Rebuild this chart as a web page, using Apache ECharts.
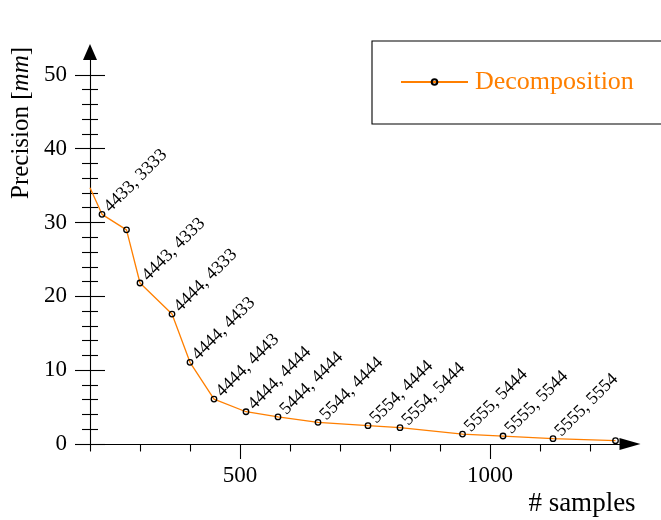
<!DOCTYPE html>
<html>
<head>
<meta charset="utf-8">
<script src="https://cdn.jsdelivr.net/npm/echarts@6/dist/echarts.min.js"></script>
<style>html,body{margin:0;padding:0;background:#fff}#c{width:661px;height:520px}</style>
</head>
<body>
<div id="c"></div>
<script>
// Data
var samples = [200, 224, 273, 300, 364, 400, 448, 512, 576, 656, 756, 820, 945, 1026, 1126, 1251];
var precision = [34.7, 31.1, 29.0, 21.8, 17.6, 11.06, 6.09, 4.37, 3.66, 2.94, 2.48, 2.21, 1.35, 1.08, 0.72, 0.45];
var pointTags = ['', '4433, 3333', '', '4443, 4333', '4444, 4333', '4444, 4433', '4444, 4443', '4444, 4444',
  '5444, 4444', '5544, 4444', '5554, 4444', '5554, 5444', '5555, 5444', '5555, 5544', '5555, 5554', ''];
var seriesName = 'Decomposition';
var xMajorTicks = [500, 1000];
var xMinorTicks = [200, 300, 400, 600, 700, 800, 900, 1100, 1200];
var yMajorTicks = [0, 10, 20, 30, 40, 50];
var yMinorTicks = [2, 4, 6, 8, 12, 14, 16, 18, 22, 24, 26, 28, 32, 34, 36, 38, 42, 44, 46, 48];
var xTitle = '# samples';
var yTitle = 'Precision [{i|mm}]';

var FONT = '"Liberation Serif", "DejaVu Serif", serif';
var ORANGE = '#ff7f00';
var X_MIN = 200, X_MAX = 1260, Y_MIN = 0, Y_MAX = 52;

var chart = echarts.init(document.getElementById('c'), null, {renderer: 'canvas'});

var pts = samples.map(function (x, i) {
  var item = {value: [x, precision[i]], name: pointTags[i]};
  if (i === 0) item.symbol = 'none';
  if (!pointTags[i]) item.label = {show: false};
  return item;
});

function plain(v) { return String(v); }

function yAx(opts) {
  var base = {
    type: 'value', min: Y_MIN, max: Y_MAX, position: 'left', offset: 0,
    splitLine: {show: false},
    axisLine: {show: false, onZero: false},
    axisLabel: {show: false},
    axisTick: {show: false}
  };
  return Object.assign(base, opts);
}
function xAx(opts) {
  var base = {
    type: 'value', min: X_MIN, max: X_MAX, position: 'bottom', offset: 0,
    splitLine: {show: false},
    axisLine: {show: false, onZero: false},
    axisLabel: {show: false},
    axisTick: {show: false}
  };
  return Object.assign(base, opts);
}

chart.setOption({
  animation: false,
  backgroundColor: '#fff',
  grid: {left: 90, right: 41, top: 60, bottom: 76},
  xAxis: [
    xAx({
      axisLine: {show: true, onZero: false, lineStyle: {color: '#000', width: 1.1},
        symbol: ['none', 'triangle'], symbolSize: [12, 21], symbolOffset: [0, 10]},
      axisTick: {show: true, inside: false, length: 15, lineStyle: {color: '#000', width: 1.1}, customValues: xMajorTicks},
      axisLabel: {show: true, customValues: xMajorTicks, formatter: plain, margin: 20, color: '#000', fontSize: 23, fontFamily: FONT}
    }),
    xAx({
      axisTick: {show: true, inside: false, length: 7.5, lineStyle: {color: '#000', width: 1.1}, customValues: xMinorTicks}
    })
  ],
  yAxis: [
    yAx({
      axisLine: {show: true, onZero: false, lineStyle: {color: '#000', width: 1.1},
        symbol: ['none', 'triangle'], symbolSize: [14, 16], symbolOffset: [0, 8]},
      axisTick: {show: true, inside: false, length: 15, lineStyle: {color: '#000', width: 1.1}, customValues: yMajorTicks},
      axisLabel: {show: true, customValues: yMajorTicks, formatter: plain, margin: 23, color: '#000', fontSize: 23, fontFamily: FONT}
    }),
    yAx({axisTick: {show: true, inside: true, length: 15, lineStyle: {color: '#000', width: 1.1}, customValues: yMajorTicks}}),
    yAx({axisTick: {show: true, inside: false, length: 8, lineStyle: {color: '#000', width: 1.1}, customValues: yMinorTicks}}),
    yAx({axisTick: {show: true, inside: true, length: 8, lineStyle: {color: '#000', width: 1.1}, customValues: yMinorTicks}})
  ],
  legend: {
    show: true,
    data: [seriesName],
    left: 372, top: 41,
    orient: 'vertical',
    padding: [28, 60, 29, 28],
    borderColor: '#000', borderWidth: 1.1, borderRadius: 0,
    itemWidth: 67, itemHeight: 7,
    textStyle: {color: ORANGE, fontSize: 26, fontFamily: FONT, padding: [0, 0, 0, 2]}
  },
  graphic: [
    {type: 'text', x: 21, y: 123, rotation: Math.PI / 2,
      style: {text: yTitle, fill: '#000', fontSize: 25, fontFamily: FONT, align: 'center', verticalAlign: 'middle',
        rich: {i: {fontStyle: 'italic', fontSize: 25, fontFamily: FONT, fill: '#000'}}}},
    {type: 'text', x: 582, y: 504,
      style: {text: xTitle, fill: '#000', fontSize: 27, fontFamily: FONT, align: 'center', verticalAlign: 'middle'}}
  ],
  series: [{
    name: seriesName,
    type: 'line',
    xAxisIndex: 0, yAxisIndex: 0,
    data: pts,
    clip: false,
    symbol: 'circle',
    symbolSize: 5.5,
    lineStyle: {color: ORANGE, width: 1.3},
    itemStyle: {color: 'rgba(255,255,255,0)', borderColor: '#000', borderWidth: 1.3},
    label: {
      show: true, formatter: '{b}', position: ['50%', '50%'], rotate: 45,
      align: 'left', verticalAlign: 'middle', padding: [0, 0, 0, 7],
      color: '#000', fontSize: 18, fontFamily: FONT
    },
    emphasis: {disabled: true}
  }]
});
</script>
</body>
</html>
